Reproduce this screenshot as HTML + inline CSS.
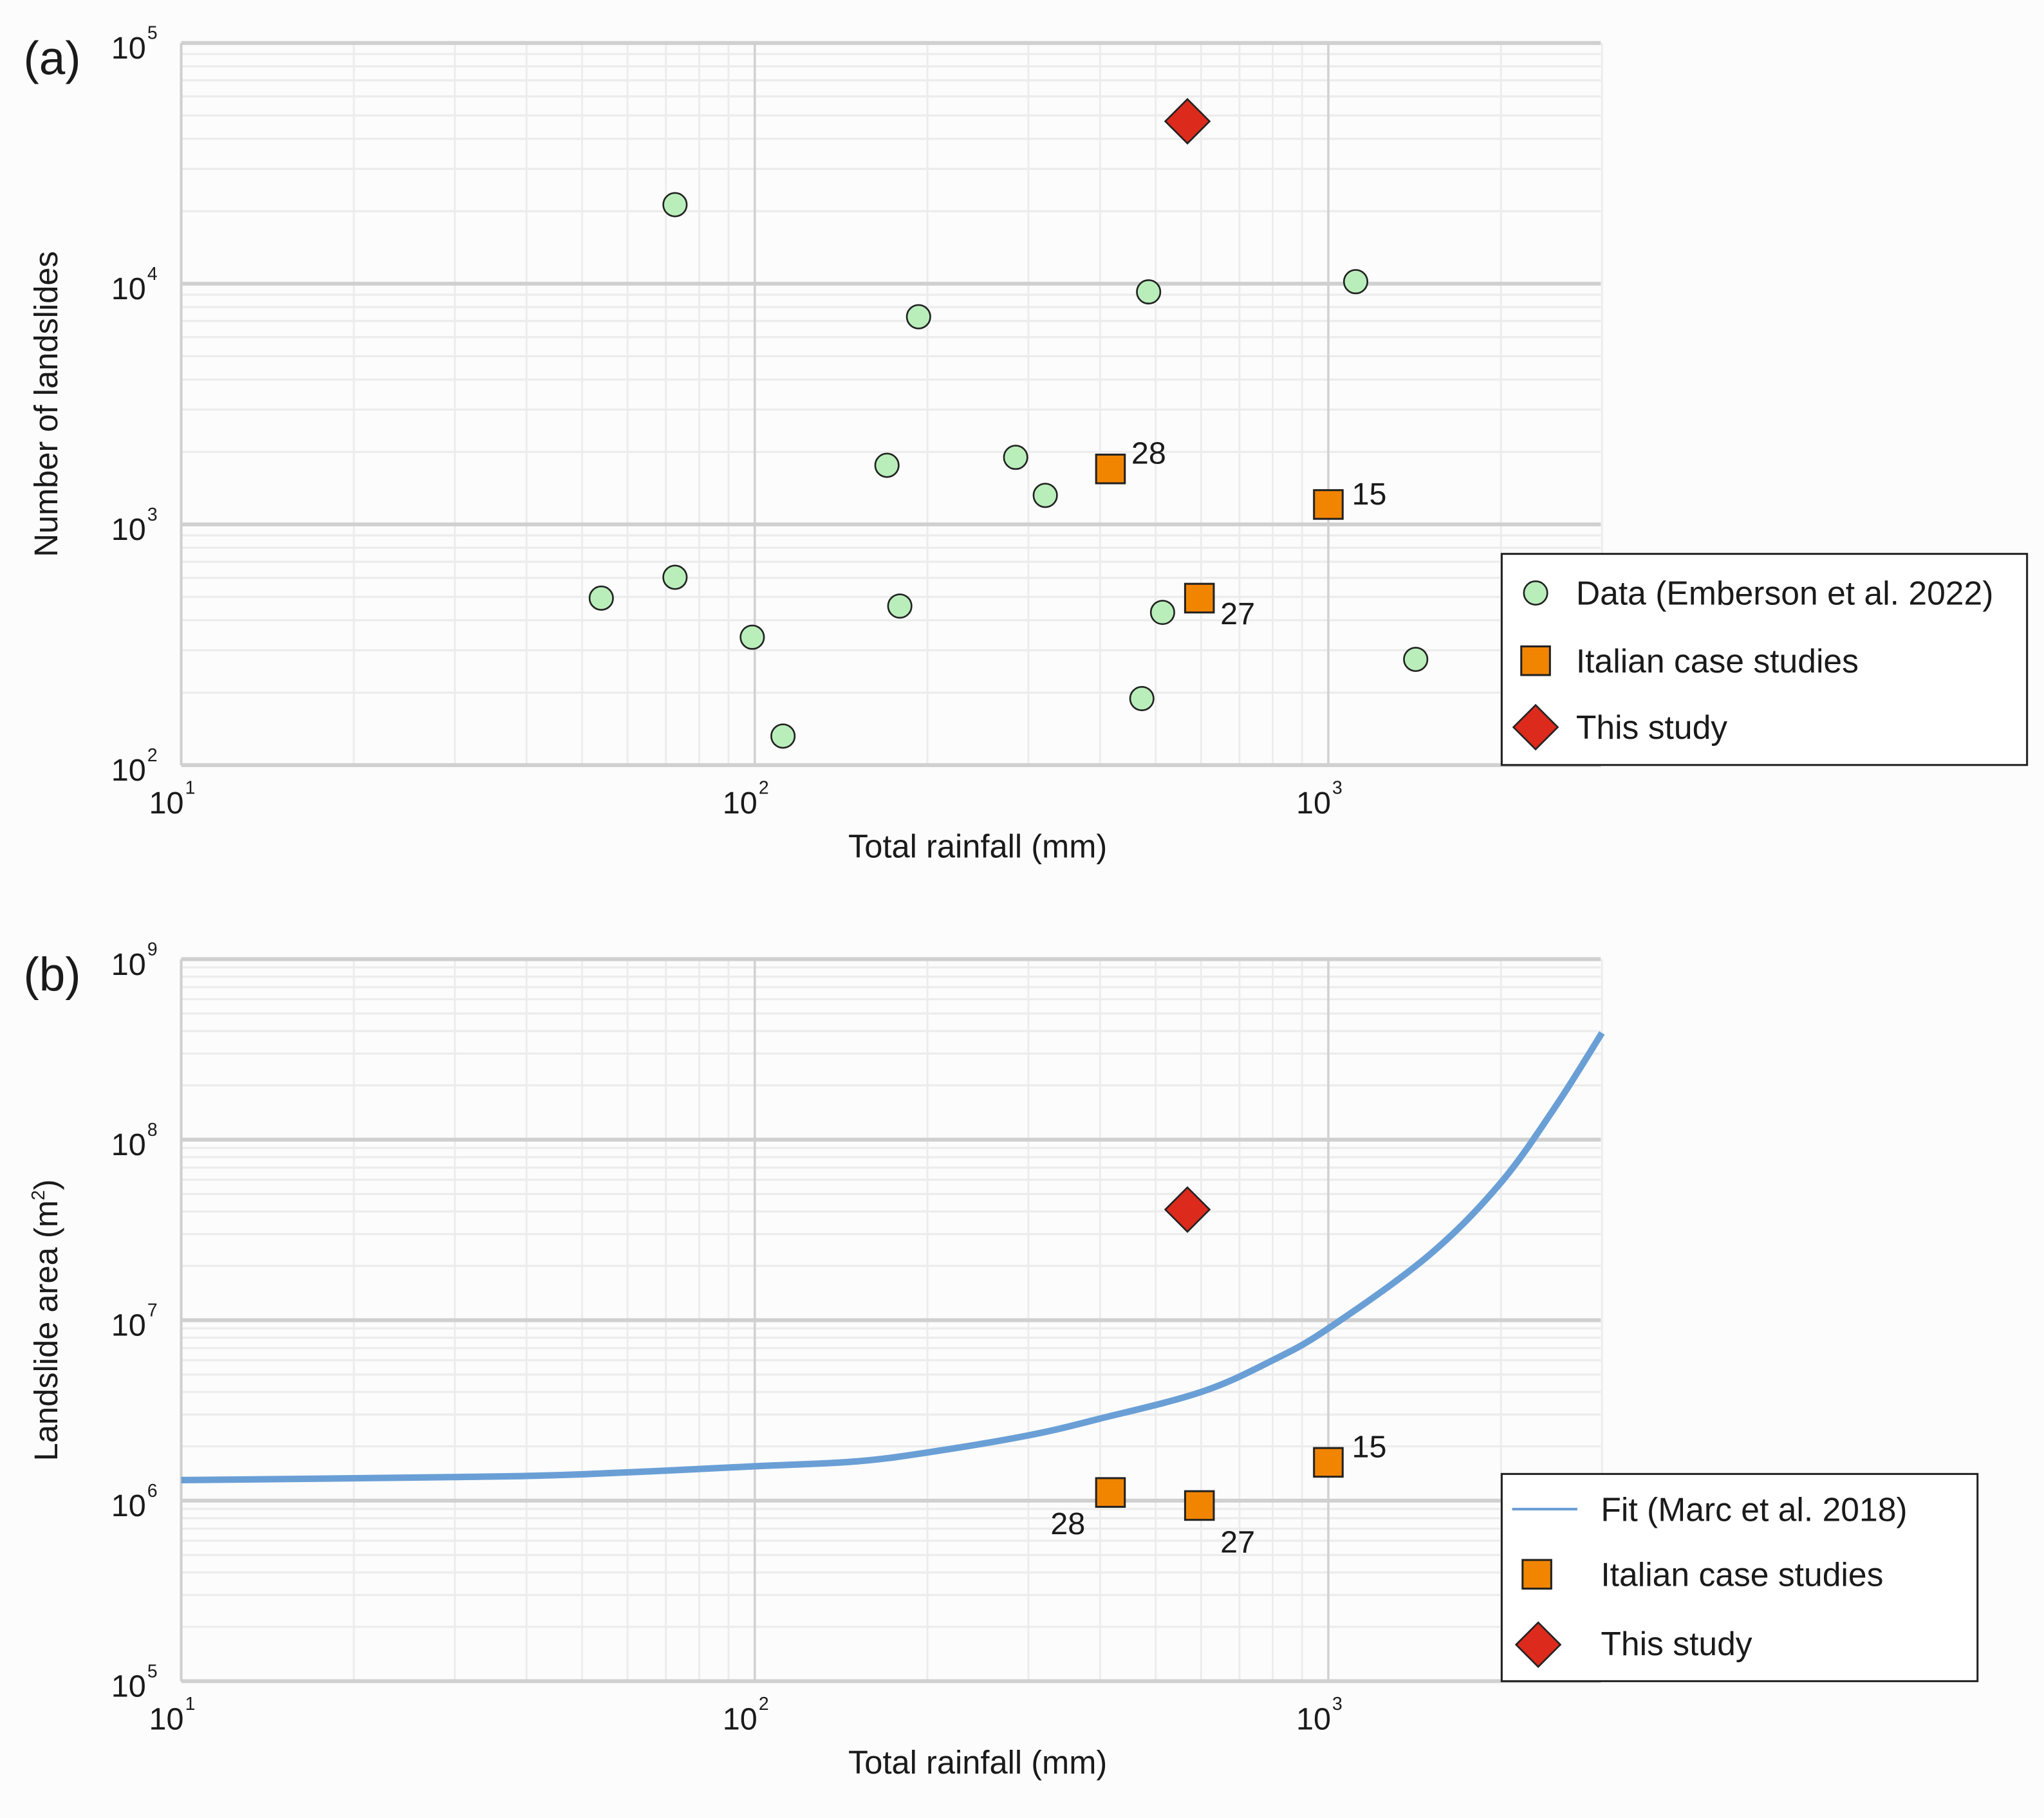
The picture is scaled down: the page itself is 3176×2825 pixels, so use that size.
<!DOCTYPE html>
<html><head><meta charset="utf-8"><style>
html,body{margin:0;padding:0;background:#fcfcfc}
svg{display:block}
text{font-family:"Liberation Sans",sans-serif;fill:#1a1a1a}
</style></head><body>
<svg id="fig" width="3176" height="2825" viewBox="0 0 1568 1395" preserveAspectRatio="none" xmlns="http://www.w3.org/2000/svg">
<rect x="0" y="0" width="1568" height="1395" fill="#fcfcfc"/>
</svg>
<script>
// Panel (a) data
const aCircX=[72.6,193,486,1116,170,285,321,54,72.6,99,179,514,112,473,1420];
const aCircY=[21300,7290,9250,10200,1760,1900,1320,494,603,340,458,431,132,189,275];
const aSqX=[417,1000,596];
const aSqY=[1700,1210,494];
const aSqLab=["28","15","27"];
const aDiaX=[568];
const aDiaY=[47300];
// Panel (b) data
const bSqX=[417,596,1000];
const bSqY=[1.11e6,9.4e5,1.63e6];
const bSqLab=["28","27","15"];
const bDiaX=[568];
const bDiaY=[4.1e7];
const fitX=[10,30,50,100,150,200,300,400,600,800,1000,1500,2000,2500,3000];
const fitY=[1.3e6,1.35e6,1.4e6,1.55e6,1.65e6,1.85e6,2.3e6,2.85e6,4.0e6,6.0e6,9.0e6,2.3e7,5.8e7,1.56e8,3.9e8];

const NS="http://www.w3.org/2000/svg";
const svg=document.getElementById('fig');
function mk(tag,attrs,parent,txt){const e=document.createElementNS(NS,tag);for(const k in attrs)e.setAttribute(k,attrs[k]);if(txt!==undefined)e.textContent=txt;(parent||svg).appendChild(e);return e;}
const X0=139,XR=1228,DEC=440;
function sx(v){return X0+(Math.log10(v)-1)*DEC;}

function panel(cfg){
  const g=mk('g',{});
  
  
  const sy=v=>cfg.top+(cfg.ymax-Math.log10(v))*cfg.dec;
  const bottom=cfg.top+(cfg.ymax-cfg.ymin)*cfg.dec;
  for(let e=cfg.ymin;e<cfg.ymax;e++)for(let m=2;m<=9;m++){const y=sy(m*Math.pow(10,e));const l=mk('line',{x1:X0,x2:XR,y1:y,y2:y,stroke:'#ececec','stroke-width':1.6},g);}
  for(let e=1;e<=3;e++)for(let m=2;m<=9;m++){const v=m*Math.pow(10,e);if(v>3000)continue;const x=sx(v);const l=mk('line',{x1:x,x2:x,y1:cfg.top,y2:bottom,stroke:'#ececec','stroke-width':1.4},g);}
  [100,1000].forEach(v=>{const x=sx(v);const l=mk('line',{x1:x,x2:x,y1:cfg.top,y2:bottom,stroke:'#d2d2d2','stroke-width':1.8},g);});
  const la=mk('line',{x1:X0,x2:X0,y1:cfg.top,y2:bottom,stroke:'#cfcfcf','stroke-width':2},g);
  for(let e=cfg.ymin;e<=cfg.ymax;e++){const y=sy(Math.pow(10,e));const l=mk('line',{x1:X0,x2:XR,y1:y,y2:y,stroke:'#d0d0d0','stroke-width':3},g);
    const t=mk('text',{x:112,y:y+12,'font-size':24,'text-anchor':'end'},g,'10');
    const s=mk('text',{x:113,y:y-3,'font-size':14},g,String(e));}
  [1,2,3].forEach(e=>{const x=sx(Math.pow(10,e));const t=mk('text',{x:x+2,y:bottom+37,'font-size':24,'text-anchor':'end'},g,'10');
    const s=mk('text',{x:x+3,y:bottom+22,'font-size':14},g,String(e));});
  const xt=mk('text',{x:750,y:bottom+71,'font-size':25,'text-anchor':'middle'},g,'Total rainfall (mm)');
  const cy=(cfg.top+bottom)/2;
  const yt=mk('text',{x:0,y:0,'font-size':25,'text-anchor':'middle',transform:`translate(44,${cy}) rotate(-90)`},g,cfg.ytitle);
  if(cfg.ysup){mk('tspan',{'font-size':14,dy:-10},yt,'2');mk('tspan',{dy:10},yt,')');}
  const pl=mk('text',{x:18,y:cfg.top+24,'font-size':36},g,cfg.label);
  return {g,sy};
}
function square(g,x,y,name){const r=mk('rect',{x:x-11,y:y-11,width:22,height:22,fill:'#f28500',stroke:'#222','stroke-width':1.5},g);return r;}
function diamond(g,x,y,name){const p=mk('polygon',{points:`${x},${y-17} ${x+17},${y} ${x},${y+17} ${x-17},${y}`,fill:'#dc2a1c',stroke:'#222','stroke-width':1.3},g);return p;}
function circle(g,x,y,name){const c=mk('circle',{cx:x,cy:y,r:9,fill:'#b9eebb',stroke:'#222','stroke-width':1.3},g);return c;}

const A=panel({name:'panel-a',top:33,ymax:5,ymin:2,dec:184.7,ytitle:'Number of landslides',label:'(a)'});
aCircX.forEach((v,i)=>circle(A.g,sx(v),A.sy(aCircY[i]),'emberson-point'));
const aOff=[[16,-4],[18,0],[16,20]];
aSqX.forEach((v,i)=>{const x=sx(v),y=A.sy(aSqY[i]);square(A.g,x,y,'italian-case-point');const t=mk('text',{x:x+aOff[i][0],y:y+aOff[i][1],'font-size':24},A.g,aSqLab[i]);});
aDiaX.forEach((v,i)=>diamond(A.g,sx(v),A.sy(aDiaY[i]),'this-study-point'));
const la=mk('g',{});
mk('rect',{x:1152,y:425,width:403,height:162,fill:'#fff',stroke:'#222','stroke-width':1.5},la);
circle(la,1178,455,'legend-marker-data');
square(la,1178,507,'legend-marker-italian');
diamond(la,1178,558,'legend-marker-this-study');
[['Data (Emberson et al. 2022)',464],['Italian case studies',516],['This study',567]].forEach(([s,y])=>{const t=mk('text',{x:1209,y:y,'font-size':25.5},la,s);});

const B=panel({name:'panel-b',top:736,ymax:9,ymin:5,dec:138.5,ytitle:'Landslide area (m',ysup:true,label:'(b)'});
// smooth Catmull-Rom path through fit points
const P=fitX.map((v,i)=>[sx(v),B.sy(fitY[i])]);
let d='M'+P[0][0].toFixed(1)+','+P[0][1].toFixed(1);
for(let i=0;i<P.length-1;i++){const p0=P[Math.max(0,i-1)],p1=P[i],p2=P[i+1],p3=P[Math.min(P.length-1,i+2)];
  const c1=[p1[0]+(p2[0]-p0[0])/6,p1[1]+(p2[1]-p0[1])/6],c2=[p2[0]-(p3[0]-p1[0])/6,p2[1]-(p3[1]-p1[1])/6];
  d+=`C${c1[0].toFixed(1)},${c1[1].toFixed(1)} ${c2[0].toFixed(1)},${c2[1].toFixed(1)} ${p2[0].toFixed(1)},${p2[1].toFixed(1)}`;}
const fl=mk('path',{d:d,fill:'none',stroke:'#6a9fd6','stroke-width':5,'stroke-linejoin':'round'},B.g);
const bOff=[[-46,32],[16,36],[18,-4]];
bSqX.forEach((v,i)=>{const x=sx(v),y=B.sy(bSqY[i]);square(B.g,x,y,'italian-case-point');const t=mk('text',{x:x+bOff[i][0],y:y+bOff[i][1],'font-size':24},B.g,bSqLab[i]);});
bDiaX.forEach((v,i)=>diamond(B.g,sx(v),B.sy(bDiaY[i]),'this-study-point'));
const lb=mk('g',{});
mk('rect',{x:1152,y:1131,width:365,height:159,fill:'#fff',stroke:'#222','stroke-width':1.5},lb);
const ll=mk('line',{x1:1160,x2:1210,y1:1158,y2:1158,stroke:'#6a9fd6','stroke-width':2},lb);
square(lb,1179,1208,'legend-marker-italian');
diamond(lb,1180,1262,'legend-marker-this-study');
[['Fit (Marc et al. 2018)',1167],['Italian case studies',1217],['This study',1270]].forEach(([s,y])=>{const t=mk('text',{x:1228,y:y,'font-size':25.5},lb,s);});
</script>
</body></html>
